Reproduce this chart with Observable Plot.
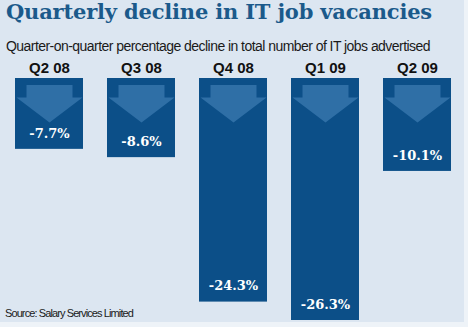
<!DOCTYPE html>
<html>
<head>
<meta charset="utf-8">
<script src="https://cdn.jsdelivr.net/npm/d3@7"></script>
<script src="https://cdn.jsdelivr.net/npm/@observablehq/plot@0.6"></script>
<style>
  html, body { margin: 0; padding: 0; background: #eef3f8; }
  #wrap { position: relative; width: 468px; height: 327px; overflow: hidden; background: #eef3f8; }
  #panel { position: absolute; left: 0; top: 0; width: 464px; height: 322px; background: #dce6f1; }
  #chart { position: absolute; left: 0; top: 0; }
  .t { position: absolute; white-space: nowrap; }
  #title { left: 6px; top: 1px; font-family: "DejaVu Serif"; font-weight: bold; font-size: 21px; color: #1b5a8b; line-height: 22px; }
  #subtitle { left: 6px; top: 38px; font-family: "Liberation Sans"; font-size: 14px; color: #1a1a1a; line-height: 16px; }
  #source { left: 5px; top: 307px; font-family: "Liberation Sans"; font-size: 11px; color: #1a1a1a; line-height: 13px; }
</style>
</head>
<body>
<div id="wrap">
  <div id="panel"></div>
  <div id="chart"></div>
  <div class="t" id="title" data-w="426">Quarterly decline in IT job vacancies</div>
  <div class="t" id="subtitle" data-w="424">Quarter-on-quarter percentage decline in total number of IT jobs advertised</div>
  <div class="t" id="source" data-w="128">Source: Salary Services Limited</div>
</div>
<script>
const quarters = ["Q2 08", "Q3 08", "Q4 08", "Q1 09", "Q2 09"];
const declines = [-7.7, -8.6, -24.3, -26.3, -10.1];
const valueLabels = ["-7.7%", "-8.6%", "-24.3%", "-26.3%", "-10.1%"];

const data = quarters.map((q, i) => ({quarter: q, value: declines[i], label: valueLabels[i]}));

// downward arrow glyph drawn at the top of each bar
const arrowSymbol = {
  draw(ctx) {
    ctx.moveTo(-23, 6.5);
    ctx.lineTo(23, 6.5);
    ctx.lineTo(23, 19);
    ctx.lineTo(33, 19);
    ctx.lineTo(0, 44);
    ctx.lineTo(-33, 19);
    ctx.lineTo(-23, 19);
    ctx.closePath();
  }
};

const chart = Plot.plot({
  width: 468,
  height: 327,
  marginTop: 78,
  marginBottom: 7,
  marginLeft: 0,
  marginRight: 0,
  style: {background: "transparent", fontFamily: "Liberation Sans", color: "#111"},
  x: {domain: quarters, range: [14, 452], paddingInner: 0.26, paddingOuter: 0},
  y: {domain: [-26.3, 0], axis: null},
  marks: [
    Plot.barY(data, {x: "quarter", y: "value", fill: "#0c4f88"}),
    Plot.dot(data, {x: "quarter", y: () => 0, symbol: arrowSymbol, fill: "#2f6fa6", stroke: "none"}),
    Plot.text(data, {x: "quarter", y: "value", text: "label", dy: -16, fill: "white",
      fontFamily: "DejaVu Serif", fontWeight: "bold", fontSize: 13}),
    Plot.axisX({anchor: "top", tickSize: 0, tickPadding: 6, fontSize: 15, fontWeight: "bold", label: null})
  ]
});
document.getElementById("chart").append(chart);

// fit header/footer text widths
document.querySelectorAll(".t").forEach(el => {
  const target = +el.dataset.w;
  const w = el.getBoundingClientRect().width;
  const n = el.textContent.length;
  el.style.letterSpacing = ((target - w) / n) + "px";
});
</script>
</body>
</html>
